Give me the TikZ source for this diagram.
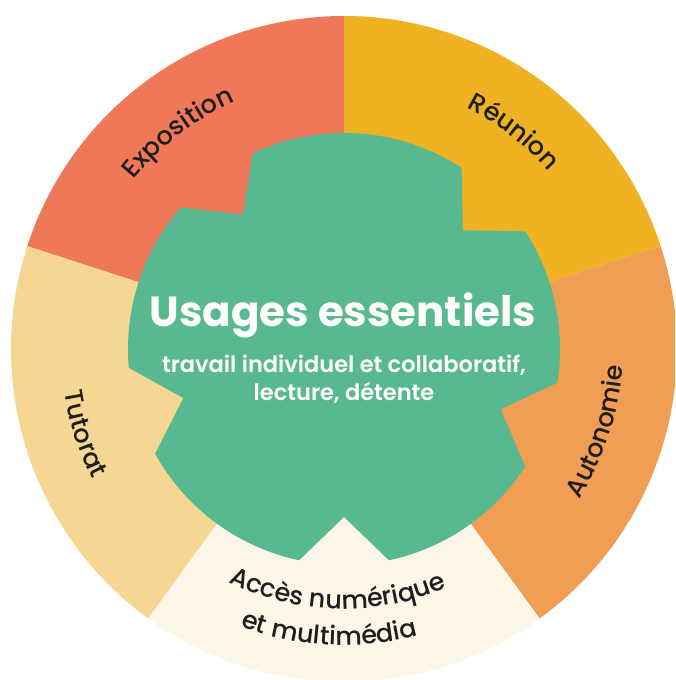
\documentclass[tikz,border=0pt]{standalone}
\usepackage{fontspec}
\setmainfont{Poppins}
\newfontfamily\submedium{Poppins SemiBold}
\newfontfamily\lblface{Poppins Medium}
\usetikzlibrary{decorations.text}
\definecolor{cExpo}{HTML}{EF7859}
\definecolor{cReun}{HTML}{EEB223}
\definecolor{cAuto}{HTML}{F09E54}
\definecolor{cTuto}{HTML}{F5D692}
\definecolor{cAcces}{HTML}{FCF6E9}
\definecolor{cGreen}{HTML}{58B990}
\definecolor{cText}{HTML}{1E1E1E}
\newcommand\lblfont{\lblface\fontsize{25.5pt}{26pt}\selectfont\color{cText}}
\tikzset{
  lbl/.style={decorate, decoration={text along path, text align=center, text={|\lblfont|#1}}},
  sector/.style={fill=#1},
  centertext/.style={anchor=base, text=white, inner sep=0pt},
}
\begin{document}
\begin{tikzpicture}[x=1pt,y=1pt]
\useasboundingbox (-344,-331) rectangle (331,349);
\clip (-344,-331) rectangle (331,349);
\fill[white] (-344,-331) rectangle (331,349);
% sectors
\fill[sector=cReun]  (0,0) -- (18:333pt)  arc[start angle=18, end angle=90, radius=333pt] -- cycle;
\fill[sector=cExpo]  (0,0) -- (90:333pt)  arc[start angle=90, end angle=162, radius=333pt] -- cycle;
\fill[sector=cTuto]  (0,0) -- (162:333pt) arc[start angle=162, end angle=234, radius=333pt] -- cycle;
\fill[sector=cAcces] (0,0) -- (234:333pt) arc[start angle=234, end angle=306, radius=333pt] -- cycle;
\fill[sector=cAuto]  (0,0) -- (306:333pt) arc[start angle=306, end angle=378, radius=333pt] -- cycle;
% green centre shape
\fill[cGreen] (57:216pt) arc[start angle=57, end angle=115, radius=216pt]
  -- (127:168pt) -- (139:216pt)
  arc[start angle=139, end angle=185, radius=216pt]
  -- (197:168pt) -- (209:216pt)
  arc[start angle=209, end angle=258, radius=216pt]
  -- (270:168pt) -- (282:216pt)
  arc[start angle=282, end angle=327, radius=216pt]
  -- (339:168pt) -- (351:216pt)
  arc[start angle=351, end angle=393, radius=216pt]
  -- (405:168pt) -- cycle;
% labels
\path[lbl=Exposition] (157.5:270pt) arc[start angle=157.5, end angle=97.5, radius=270pt];
\path[lbl=Réunion] (82:271pt) arc[start angle=82, end angle=22, radius=271pt];
\path[lbl=Autonomie] (-48:279pt) arc[start angle=-48, end angle=12, radius=279pt];
\path[lbl=Tutorat] (168:283pt) arc[start angle=168, end angle=228, radius=283pt];
\path[lbl=Accès numérique] (238.5:260pt) arc[start angle=238.5, end angle=298.5, radius=260pt];
\path[lbl=et multimédia] (237:296pt) arc[start angle=237, end angle=297, radius=296pt];
% centre text
\node[centertext, font=\fontsize{42pt}{42pt}\selectfont\bfseries] (title) at (-1,22.3) {Usages essentiels};
\node[centertext, font=\fontsize{22.5pt}{22.5pt}\selectfont\submedium] (sub1) at (0,-23.7) {travail individuel et collaboratif,};
\node[centertext, font=\fontsize{22.5pt}{22.5pt}\selectfont\submedium] (sub2) at (0,-51.7) {lecture, détente};
\end{tikzpicture}
\end{document}
